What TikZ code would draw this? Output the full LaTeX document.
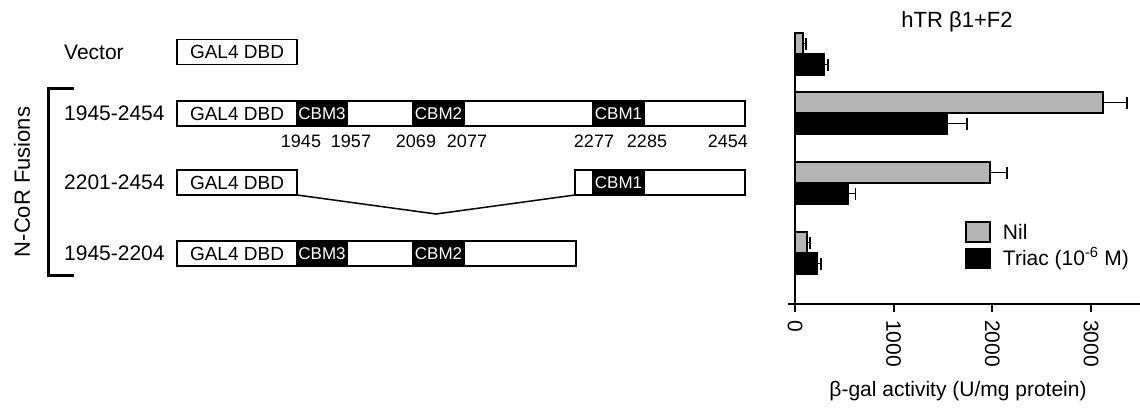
\documentclass[tikz,border=0pt]{standalone}
\usepackage{fontspec}
\setmainfont{Liberation Sans}
\usetikzlibrary{positioning}
\definecolor{nilgray}{RGB}{180,180,180}
\tikzset{
    segment/.style={
    rectangle,draw=black,line width=1.6pt,minimum height=25pt,inner sep=0pt,outer sep=0pt,
    font=\fontsize{19}{22}\selectfont
    },
    cbm/.style={
    segment,fill=black,text=white,font=\fontsize{17}{20}\selectfont
    },
    rowlabel/.style={
    anchor=west,inner sep=0pt,font=\fontsize{21}{24}\selectfont
    },
    resnum/.style={
    inner sep=0pt,font=\fontsize{18}{21}\selectfont
    },
    ticklabel/.style={
    rotate=-90,anchor=west,inner sep=0pt,font=\fontsize{21}{24}\selectfont
    },
    legbox/.style={
    rectangle,draw=black,line width=1.5pt,minimum width=24pt,minimum height=20pt,inner sep=0pt
    },
    bigtext/.style={
    inner sep=0pt,font=\fontsize{22}{26}\selectfont
    },
}
\begin{document}
\begin{tikzpicture}[x=1pt, y=-1pt, node distance=0pt]
   \useasboundingbox (0,0) rectangle (1140,407);

   % constructs
   \node[rowlabel] (vecl) at (64,52) {Vector};
   \node[segment,minimum width=120pt,anchor=west] (vgal) at (177,52) {GAL4 DBD};

   \node[rowlabel] (r1l) at (64,113.5) {1945-2454};
   \node[segment,minimum width=120pt,anchor=west] (r1gal) at (177,113.5) {GAL4 DBD};
   \node[cbm,minimum width=50pt] (r1cbm3) [right=of r1gal] {CBM3};
   \node[segment,minimum width=66pt] (r1a) [right=of r1cbm3] {};
   \node[cbm,minimum width=51pt] (r1cbm2) [right=of r1a] {CBM2};
   \node[segment,minimum width=129pt] (r1b) [right=of r1cbm2] {};
   \node[cbm,minimum width=51pt] (r1cbm1) [right=of r1b] {CBM1};
   \node[segment,minimum width=101pt] (r1c) [right=of r1cbm1] {};

   \node[resnum,below=9pt of r1cbm3.south west,xshift=4pt] (n1945) {1945};
   \node[resnum,below=9pt of r1a.south west,xshift=4pt] (n1957) {1957};
   \node[resnum,below=9pt of r1cbm2.south west,xshift=3pt] (n2069) {2069};
   \node[resnum,below=9pt of r1b.south west,xshift=3pt] (n2077) {2077};
   \node[resnum,below=9pt of r1cbm1.south west,xshift=1pt] (n2277) {2277};
   \node[resnum,below=9pt of r1c.south west,xshift=3pt] (n2285) {2285};
   \node[resnum,below=9pt of r1c.south east,anchor=north east,xshift=3pt] (n2454) {2454};

   \node[rowlabel] (r2l) at (64,182.5) {2201-2454};
   \node[segment,minimum width=120pt,anchor=west] (r2gal) at (177,182.5) {GAL4 DBD};
   \node[segment,minimum width=18pt,anchor=west] (r2pre) at (575,182.5) {};
   \node[cbm,minimum width=51pt] (r2cbm1) [right=of r2pre] {CBM1};
   \node[segment,minimum width=101pt] (r2c) [right=of r2cbm1] {};
   \coordinate (r2dip) at (436,214);
   \draw[line width=1.5pt] (r2gal.south east) -- (r2dip) -- (r2pre.south west);

   \node[rowlabel] (r3l) at (64,253.5) {1945-2204};
   \node[segment,minimum width=120pt,anchor=west] (r3gal) at (177,253.5) {GAL4 DBD};
   \node[cbm,minimum width=50pt] (r3cbm3) [right=of r3gal] {CBM3};
   \node[segment,minimum width=66pt] (r3a) [right=of r3cbm3] {};
   \node[cbm,minimum width=51pt] (r3cbm2) [right=of r3a] {CBM2};
   \node[segment,minimum width=112pt] (r3c) [right=of r3cbm2] {};

   % bracket
   \draw[line width=3pt] (74,88) -- (48,88) -- (48,275) -- (74,275);
   \node[bigtext,rotate=90] (fusions) at (22,182) {N-CoR Fusions};

   % chart
   \node[bigtext] (title) at (957,22) {hTR β1+F2};
   \foreach \top/\v/\e/\c in {33/81/30/nilgray,54/294/40/black,92/3120/243/nilgray,113/1540/203/black,
                              162/1976/172/nilgray,183/540/71/black,232/122/30/nilgray,253/223/40/black}{
     \draw[line width=1.5pt,fill=\c] (795,\top) rectangle ({795+0.0987*\v},{\top+21});
     \draw[line width=1.5pt] ({795+0.0987*\v},{\top+10.5}) -- ({795+0.0987*(\v+\e)},{\top+10.5})
       ({795+0.0987*(\v+\e)},{\top+4.5}) -- ({795+0.0987*(\v+\e)},{\top+16.5});
   }
   \draw[line width=2pt] (795,32) -- (795,304);
   \draw[line width=2pt] (788,304) -- (1140,304);
   \foreach \t in {0,1000,2000,3000}{
     \draw[line width=2pt] ({795+0.0987*\t},304) -- ({795+0.0987*\t},312);
     \node[ticklabel] at ({795+0.0987*\t},320) {\t};
   }
   \node[inner sep=0pt,font=\fontsize{21}{25}\selectfont] (xlabel) at (958,391) {β-gal activity (U/mg protein)};

   % legend
   \node[legbox,fill=nilgray] (legnil) at (978,232) {};
   \node[legbox,fill=black] (legtriac) at (978,258.5) {};
   \node[rowlabel,right=12pt of legnil] (nil) {Nil};
   \node[rowlabel,right=12pt of legtriac] (triac) {Triac (10\textsuperscript{-6} M)};
\end{tikzpicture}
\end{document}
